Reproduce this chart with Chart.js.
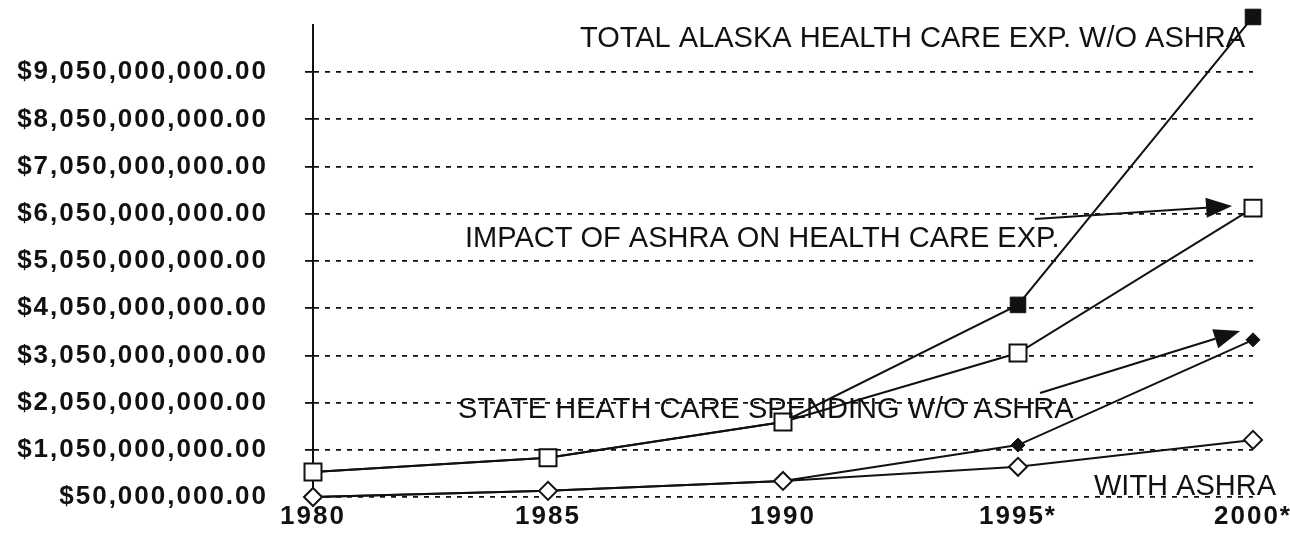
<!DOCTYPE html>
<html lang="en">
<head>
<meta charset="UTF-8">
<title>Alaska Health Care Expenditures</title>
<script src="https://cdn.jsdelivr.net/npm/chart.js"></script>
<style>
  html, body { margin: 0; padding: 0; background: #fff; }
  canvas { display: block; }
</style>
</head>
<body>
<canvas id="myChart" width="1290" height="537"></canvas>

<script>
  // Years on the x axis (* = projected)
  const years = ['1980', '1985', '1990', '1995*', '2000*'];

  // Dollar amounts
  const totalWithoutAshra = [580e6, 880e6, 1640e6, 4120e6, 10220e6];
  const impactOfAshra     = [580e6, 880e6, 1640e6, 3100e6, 6170e6];
  const stateWithoutAshra = [50e6, 180e6, 390e6, 1150e6, 3380e6];
  const stateWithAshra    = [50e6, 180e6, 390e6, 690e6, 1260e6];

  // y axis ticks: $50M then every $1B
  const yTicks = [50e6, 1050e6, 2050e6, 3050e6, 4050e6, 5050e6, 6050e6, 7050e6, 8050e6, 9050e6];
  const yMin = 50e6;
  const yMax = 10050e6;

  // callout texts, placed by (category index, dollar value)
  const notes = [
    { text: 'TOTAL ALASKA HEALTH CARE EXP. W/O ASHRA', i: 3.966, v: 9.58e9, align: 'right' },
    { text: 'IMPACT OF ASHRA ON HEALTH CARE EXP.', i: 0.647, v: 5.35e9, align: 'left' },
    { text: 'STATE HEATH CARE SPENDING W/O ASHRA', i: 0.617, v: 1.72e9, align: 'left' },
    { text: 'WITH ASHRA', i: 4.098, v: 0.09e9, align: 'right' },
  ];
  const arrows = [
    { from: [3.072, 5.94e9], to: [3.911, 6.215e9] },
    { from: [3.094, 2.253e9], to: [3.945, 3.567e9] },
  ];

  const fontFamily = '"Liberation Sans", Arial, Helvetica, sans-serif';
  const ink = '#111';

  const notesPlugin = {
    id: 'notes',
    beforeDraw(chart) {
      // the old chart has widely spaced axis numbers
      chart.ctx.letterSpacing = '2px';
    },
    afterDraw(chart) {
      const ctx = chart.ctx;
      const xs = chart.scales.x;
      const ys = chart.scales.y;
      ctx.save();
      ctx.letterSpacing = '0px';
      ctx.fillStyle = ink;
      ctx.strokeStyle = ink;
      ctx.font = '29px ' + fontFamily;
      ctx.textBaseline = 'alphabetic';
      notes.forEach(n => {
        ctx.textAlign = n.align;
        ctx.fillText(n.text, xs.getPixelForValue(n.i), ys.getPixelForValue(n.v));
      });

      arrows.forEach(a => {
        const x1 = xs.getPixelForValue(a.from[0]), y1 = ys.getPixelForValue(a.from[1]);
        const x2 = xs.getPixelForValue(a.to[0]), y2 = ys.getPixelForValue(a.to[1]);
        const ang = Math.atan2(y2 - y1, x2 - x1);
        const headLen = 26, headHalf = 10;
        const bx = x2 - headLen * Math.cos(ang), by = y2 - headLen * Math.sin(ang);
        ctx.lineWidth = 2;
        ctx.beginPath();
        ctx.moveTo(x1, y1);
        ctx.lineTo(bx, by);
        ctx.stroke();
        ctx.beginPath();
        ctx.moveTo(x2, y2);
        ctx.lineTo(bx + headHalf * Math.sin(ang), by - headHalf * Math.cos(ang));
        ctx.lineTo(bx - headHalf * Math.sin(ang), by + headHalf * Math.cos(ang));
        ctx.closePath();
        ctx.fill();
      });
      ctx.restore();
    }
  };

  const common = {
    borderColor: ink,
    borderWidth: 2,
    pointBorderColor: ink,
    tension: 0,
    fill: false,
    clip: false,
  };

  const ctx = document.getElementById('myChart').getContext('2d');
  const chart = new Chart(ctx, {
    type: 'line',
    data: {
      labels: years,
      datasets: [
        {
          ...common,
          label: 'Total Alaska health care exp. w/o ASHRA',
          data: totalWithoutAshra,
          pointStyle: 'rect',
          pointRadius: 11,
          pointBackgroundColor: ink,
          pointBorderWidth: 1,
          order: 3,
        },
        {
          ...common,
          label: 'Impact of ASHRA on health care exp.',
          data: impactOfAshra,
          pointStyle: 'rect',
          pointRadius: 12,
          pointBackgroundColor: '#fff',
          pointBorderWidth: 2,
          order: 2,
        },
        {
          ...common,
          label: 'State health care spending w/o ASHRA',
          data: stateWithoutAshra,
          pointStyle: 'rectRot',
          pointRadius: 7,
          pointBackgroundColor: ink,
          pointBorderWidth: 1,
          order: 1,
        },
        {
          ...common,
          label: 'With ASHRA',
          data: stateWithAshra,
          pointStyle: 'rectRot',
          pointRadius: 9,
          pointBackgroundColor: '#fff',
          pointBorderWidth: 2,
          order: 0,
        },
      ],
    },
    options: {
      responsive: false,
      animation: false,
      layout: { padding: { left: 0, top: 25, right: 37, bottom: 0 } },
      plugins: {
        legend: { display: false },
        tooltip: { enabled: false },
      },
      scales: {
        x: {
          type: 'category',
          offset: false,
          grid: { display: false },
          border: { display: false },
          ticks: {
            color: ink,
            font: { family: fontFamily, size: 26, weight: 'bold' },
            padding: -4,
            maxRotation: 0,
            autoSkip: false,
          },
          afterFit: (scale) => { scale.height = 40; },
        },
        y: {
          min: yMin,
          max: yMax,
          // long tick so labels sit away from the axis; only the 8px next to the axis is inked
          grid: {
            color: ink, lineWidth: 1.8, tickLength: 45, drawTicks: true,
            tickBorderDash: [8, 37], tickBorderDashOffset: 8,
          },
          border: { display: true, color: ink, width: 2, dash: [5, 6] },
          ticks: {
            color: ink,
            padding: 0,
            font: { family: fontFamily, size: 26, weight: 'bold' },
            callback: (value) => '$' + Math.round(value).toLocaleString('en-US', { minimumFractionDigits: 2, maximumFractionDigits: 2 }),
          },
          afterBuildTicks: (scale) => { scale.ticks = yTicks.map(v => ({ value: v })); },
          afterFit: (scale) => { scale.width = 313; },
        },
      },
    },
    plugins: [notesPlugin],
  });
</script>
</body>
</html>
